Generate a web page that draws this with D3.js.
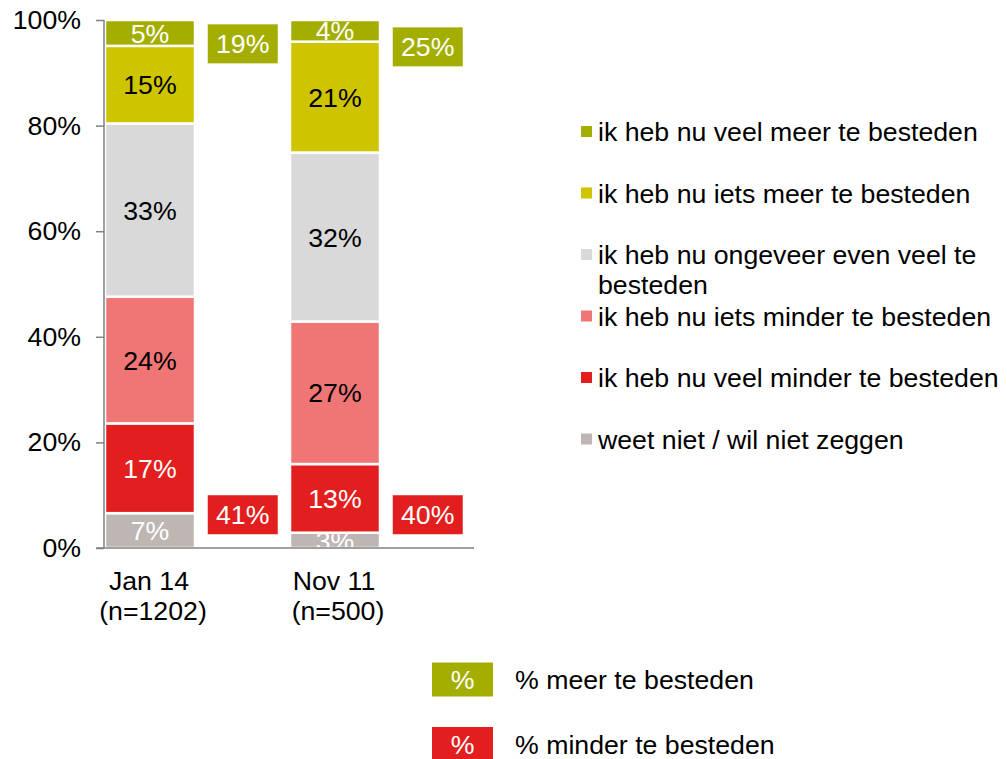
<!DOCTYPE html>
<html>
<head>
<meta charset="utf-8">
<script src="https://cdn.jsdelivr.net/npm/d3@7"></script>
<style>
  html, body { margin: 0; padding: 0; background: #fff; }
  svg { display: block; font-family: "Liberation Sans", Arial, sans-serif; }
</style>
</head>
<body>
<svg id="chart" width="1007" height="759"></svg>
<script>
// ---- data ----
const categories = ["Jan 14", "Nov 11"];
const categorySubLabels = ["(n=1202)", "(n=500)"];
const seriesNames = [
  "weet niet / wil niet zeggen",
  "ik heb nu veel minder te besteden",
  "ik heb nu iets minder te besteden",
  "ik heb nu ongeveer even veel te besteden",
  "ik heb nu iets meer te besteden",
  "ik heb nu veel meer te besteden"
];
const jan14Values = [6.6, 17.0, 24.0, 32.8, 14.7, 4.9];
const nov11Values = [2.9, 13.0, 27.0, 32.0, 21.0, 4.1];
const meerTotals = [19, 25];
const minderTotals = [41, 40];
const yTicks = [0, 20, 40, 60, 80, 100];
const seriesColors = ["#BDB6B2", "#E31E1E", "#F07676", "#D9D9D9", "#CEC400", "#A3AE00"];
const labelColors = ["#fff", "#fff", "#000", "#000", "#000", "#fff"];
const legendOrder = [5, 4, 3, 2, 1, 0];
const legendLines = {
  3: ["ik heb nu ongeveer even veel te", "besteden"]
};
const summaryLegend = ["% meer te besteden", "% minder te besteden"];

// ---- layout ----
const svg = d3.select("#chart");
const FS = 26.7;
const plot = { left: 104, right: 474, top: 20, bottom: 548 };

const slots = ["Jan 14", "gap1", "Nov 11", "gap2"];
const x = d3.scaleBand().domain(slots).range([plot.left, plot.right]).padding(0);
const y = d3.scaleLinear().domain([0, 100]).range([plot.bottom, plot.top]);

const rows = categories.map((c, i) => {
  const vals = i === 0 ? jan14Values : nov11Values;
  const o = { cat: c };
  seriesNames.forEach((s, k) => o[s] = vals[k]);
  return o;
});
const stack = d3.stack().keys(seriesNames);
const stacked = stack(rows);

const defs = svg.append("defs");
defs.append("clipPath").attr("id", "plotclip").append("rect")
  .attr("x", plot.left).attr("y", 0).attr("width", plot.right - plot.left).attr("height", plot.bottom);

// bars
const barW = x.bandwidth() - 2.5;
const gBars = svg.append("g");
stacked.forEach((layer, k) => {
  gBars.selectAll(null).data(layer).enter().append("rect")
    .attr("x", d => x(d.data.cat) + 1)
    .attr("width", barW)
    .attr("y", d => y(d[1]))
    .attr("height", d => y(d[0]) - y(d[1]))
    .attr("fill", seriesColors[k])
    .attr("stroke", "#fff")
    .attr("stroke-width", 2.5);
});

// segment labels
const gLab = svg.append("g").attr("clip-path", "url(#plotclip)");
stacked.forEach((layer, k) => {
  gLab.selectAll(null).data(layer).enter().append("text")
    .attr("x", d => x(d.data.cat) + 1 + barW / 2)
    .attr("y", d => y((d[0] + d[1]) / 2))
    .attr("dy", "0.36em")
    .attr("text-anchor", "middle")
    .attr("font-size", FS)
    .attr("fill", labelColors[k])
    .text(d => Math.round(d[1] - d[0]) + "%");
});

// axes
const yAxis = d3.axisLeft(y).tickValues(yTicks).tickFormat(d => d + "%").tickSize(8).tickPadding(15);
const gy = svg.append("g").attr("transform", `translate(${plot.left},0)`).call(yAxis);
gy.select(".domain").attr("stroke", "#808080").attr("stroke-width", 1.5).attr("d", `M0,${plot.top}V${plot.bottom}`);
gy.selectAll(".tick line").attr("stroke", "#808080").attr("stroke-width", 1.5);
gy.selectAll(".tick text").attr("font-size", FS).attr("fill", "#000")
  .attr("font-family", "'Liberation Sans', Arial, sans-serif");

svg.append("line")
  .attr("x1", plot.left - 8).attr("x2", plot.right)
  .attr("y1", y(0)).attr("y2", y(0))
  .attr("stroke", "#808080").attr("stroke-width", 1.5);

// category labels
categories.forEach((c, i) => {
  const cx = x(c) + barW / 2;
  svg.append("text").attr("x", cx).attr("y", 580).attr("dy", "0.36em")
    .attr("text-anchor", "middle").attr("font-size", FS).text(c);
  svg.append("text").attr("x", cx + 4).attr("y", 610).attr("dy", "0.36em")
    .attr("text-anchor", "middle").attr("font-size", FS).text(categorySubLabels[i]);
});

// summary boxes
const gapSlots = ["gap1", "gap2"];
const boxW = 70, boxH = 39;
gapSlots.forEach((g, i) => {
  const cx = x(g) + x.bandwidth() / 2;
  const specs = [
    { v: meerTotals[i], cy: y(95.2) + (i === 1 ? 1.5 : -1.5), fill: seriesColors[5] },
    { v: minderTotals[i], cy: y(6.3), fill: seriesColors[1] }
  ];
  specs.forEach(s => {
    svg.append("rect").attr("x", cx - boxW / 2).attr("y", s.cy - boxH / 2)
      .attr("width", boxW).attr("height", boxH).attr("fill", s.fill);
    svg.append("text").attr("x", cx).attr("y", s.cy).attr("dy", "0.36em")
      .attr("text-anchor", "middle").attr("font-size", FS).attr("fill", "#fff")
      .text(s.v + "%");
  });
});

// right legend
const gLeg = svg.append("g");
let ly = 131.5;
legendOrder.forEach(k => {
  const lines = legendLines[k] || [seriesNames[k]];
  gLeg.append("rect").attr("x", 581).attr("y", ly - 5.5).attr("width", 11).attr("height", 11)
    .attr("fill", seriesColors[k]);
  lines.forEach((ln, j) => {
    gLeg.append("text").attr("x", 598).attr("y", ly + j * 30).attr("dy", "0.36em")
      .attr("font-size", FS).attr("fill", "#000").text(ln);
  });
  ly += 61.5;
});

// bottom legend
const bl = [{ fill: seriesColors[5], cy: 679.5 }, { fill: seriesColors[1], cy: 744 }];
bl.forEach((b, i) => {
  svg.append("rect").attr("x", 432).attr("y", b.cy - 17).attr("width", 61).attr("height", 34).attr("fill", b.fill);
  svg.append("text").attr("x", 462.5).attr("y", b.cy).attr("dy", "0.36em")
    .attr("text-anchor", "middle").attr("font-size", FS).attr("fill", "#fff").text("%");
  svg.append("text").attr("x", 515).attr("y", b.cy).attr("dy", "0.36em")
    .attr("font-size", FS).attr("fill", "#000").text(summaryLegend[i]);
});
</script>
</body>
</html>
